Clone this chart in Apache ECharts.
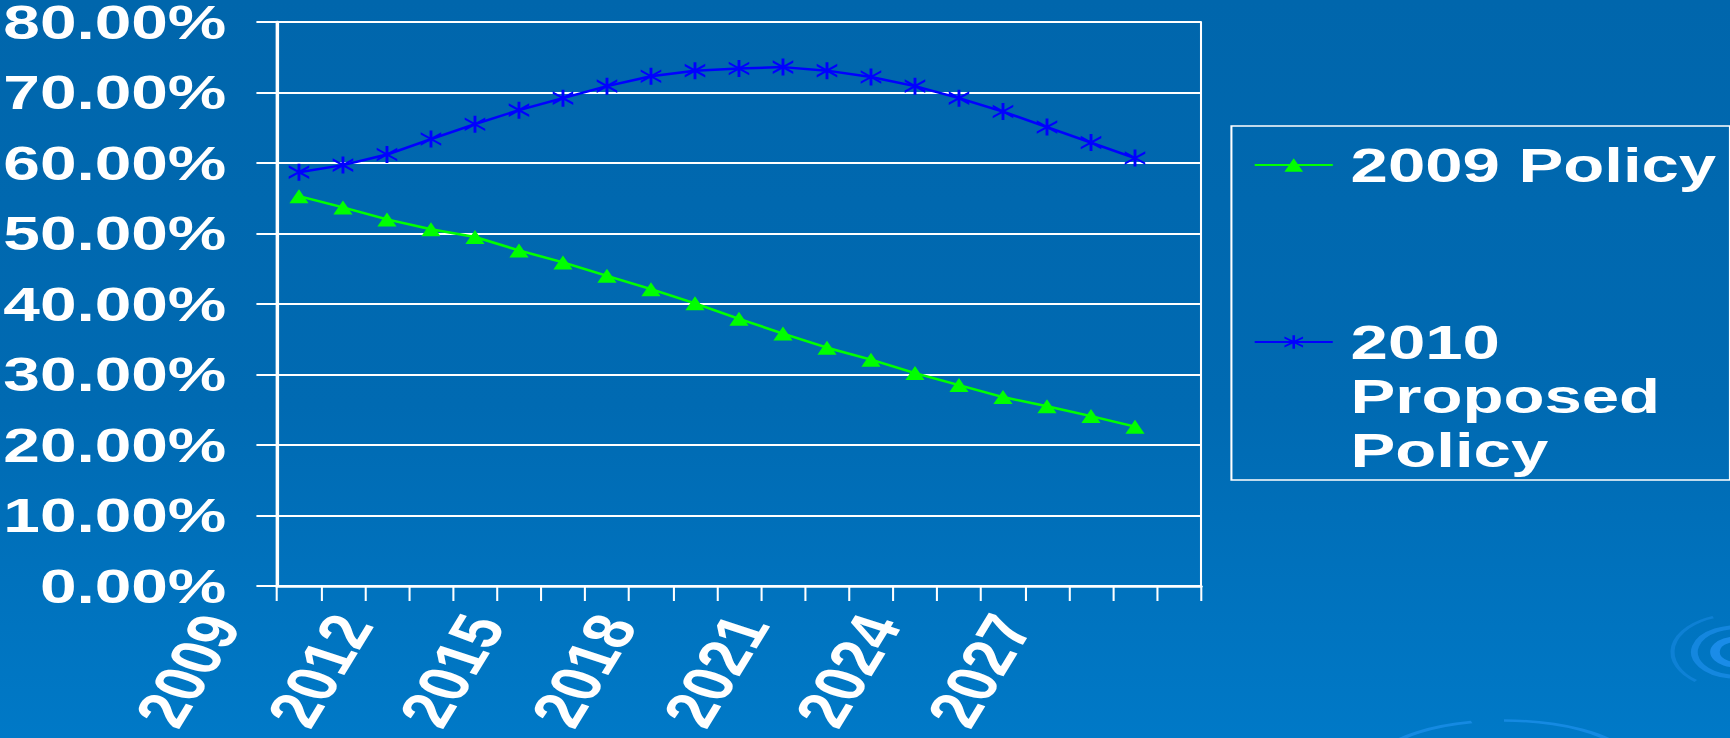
<!DOCTYPE html>
<html>
<head>
<meta charset="utf-8">
<title>2009 Policy vs 2010 Proposed Policy</title>
<script src="https://cdn.jsdelivr.net/npm/echarts@6/dist/echarts.min.js"></script>
<style>
  html, body { margin: 0; padding: 0; width: 1730px; height: 738px; overflow: hidden; background: #006EB8; }
  /* the slide is laid out on a narrower canvas and widened horizontally */
  #chart { width: 1263px; height: 738px; transform: scaleX(1.36976); transform-origin: 0 0; }
</style>
</head>
<body>
<div id="chart"></div>
<script>
// Categories: one slot per year, the last one left empty
const years = ['2009', '2010', '2011', '2012', '2013', '2014', '2015', '2016', '2017', '2018',
               '2019', '2020', '2021', '2022', '2023', '2024', '2025', '2026', '2027', '2028', '2029'];
// Years that carry a tick label
const labeledYears = ['2009', '2012', '2015', '2018', '2021', '2024', '2027'];

// Percentages per year
const policy2009 = [55.3, 53.7, 52.0, 50.6, 49.5, 47.6, 45.9, 44.0, 42.1, 40.1,
                    37.9, 35.8, 33.8, 32.1, 30.2, 28.5, 26.8, 25.5, 24.1, 22.6];
const policy2010 = [58.7, 59.7, 61.2, 63.4, 65.5, 67.5, 69.2, 70.9, 72.3, 73.1,
                    73.4, 73.6, 73.1, 72.2, 70.9, 69.2, 67.3, 65.1, 62.9, 60.7];

// Value axis range and step
const yMin = 0, yMax = 80, yStep = 10;

const seriesNames = ['2009 Policy', '2010 Proposed Policy'];
// legend wording; the two leading blank lines keep the marker level with "2010"
const legendText = {
  '2009 Policy': '2009 Policy',
  '2010 Proposed Policy': '\n\n2010\nProposed\nPolicy'
};

const FONT = 'Liberation Sans, Arial, sans-serif';
const WHITE = '#ffffff';
// asterisk marker: a vertical bar crossed by two diagonals
const STAR = 'path://M43 0L57 0L57 100L43 100Z M0 10L100 76L100 90L0 24Z M0 76L100 10L100 24L0 90Z';
const RIPPLE = 'rgba(30,145,238,0.85)';

const chart = echarts.init(document.getElementById('chart'), null, { renderer: 'svg' });

chart.setOption({
  animation: false,
  backgroundColor: {
    type: 'linear', x: 0, y: 0, x2: 0, y2: 1,
    colorStops: [
      { offset: 0, color: '#0066AC' },
      { offset: 0.55, color: '#006AB2' },
      { offset: 1, color: '#0079C7' }
    ]
  },
  grid: {
    left: 202.2, top: 22, width: 674.6, height: 564,
    containLabel: false,
    outerBoundsMode: 'none',
    show: true, borderColor: WHITE, borderWidth: 1.5, backgroundColor: 'transparent'
  },
  xAxis: {
    type: 'category',
    data: years,
    boundaryGap: true,
    axisLine: { lineStyle: { color: WHITE, width: 2.5 } },
    axisTick: { show: true, interval: 0, length: 15, lineStyle: { color: WHITE, width: 1.5 } },
    axisLabel: {
      interval: (idx, value) => labeledYears.includes(value),
      showMinLabel: true,
      showMaxLabel: true,
      hideOverlap: false,
      rotate: 66,
      // the year text ends well to the lower left of its slot
      margin: -97,
      lineHeight: 40,
      padding: [0, 141, 0, 0],
      color: WHITE, fontFamily: FONT, fontWeight: 'bold', fontSize: 52
    },
    splitLine: { show: false }
  },
  yAxis: {
    type: 'value',
    min: yMin, max: yMax, interval: yStep,
    axisLine: { show: true, lineStyle: { color: WHITE, width: 2.5 } },
    axisTick: { show: true, length: 15, lineStyle: { color: WHITE, width: 2 } },
    axisLabel: {
      margin: 37,
      lineHeight: 40,
      color: WHITE, fontFamily: FONT, fontWeight: 'bold', fontSize: 48,
      formatter: v => v.toFixed(2) + '%'
    },
    splitLine: { show: true, lineStyle: { color: WHITE, width: 2 } }
  },
  legend: {
    orient: 'vertical',
    left: 899, top: 126,
    padding: [12, 10, 3, 16],
    itemWidth: 57, itemHeight: 17, itemGap: 15,
    borderColor: WHITE, borderWidth: 1.5,
    selectedMode: false,
    formatter: name => legendText[name],
    textStyle: { color: WHITE, fontFamily: FONT, fontWeight: 'bold', fontSize: 49, lineHeight: 54,
                 padding: [0, 0, 0, 8] },
    data: seriesNames
  },
  series: [
    {
      name: seriesNames[0], type: 'line', data: policy2009,
      symbol: 'triangle', symbolSize: [14, 14], showAllSymbol: true,
      lineStyle: { color: '#00FF00', width: 2.5 },
      itemStyle: { color: '#00FF00', borderWidth: 0 },
      z: 3
    },
    {
      name: seriesNames[1], type: 'line', data: policy2010,
      symbol: STAR, symbolSize: [15, 17], showAllSymbol: true,
      lineStyle: { color: '#0000FF', width: 2.5 },
      itemStyle: { color: '#0000FF', borderWidth: 0 },
      z: 4
    }
  ],
  graphic: [
    // ripple in the lower right corner
    {
      type: 'group', x: 1268, y: 652, scaleY: 0.8, silent: true, z: -1,
      children: [
        { type: 'arc', shape: { cx: 0, cy: 0, r: 16, startAngle: 0, endAngle: Math.PI * 2 },
          style: { stroke: RIPPLE, lineWidth: 7, fill: null } },
        { type: 'arc', shape: { cx: 0, cy: 0, r: 31, startAngle: Math.PI * 0.55, endAngle: Math.PI * 1.6 },
          style: { stroke: 'rgba(30,145,238,0.65)', lineWidth: 5, fill: null } },
        { type: 'arc', shape: { cx: 0, cy: 0, r: 47, startAngle: Math.PI * 0.72, endAngle: Math.PI * 1.38 },
          style: { stroke: 'rgba(30,145,238,0.45)', lineWidth: 3, fill: null } }
      ]
    },
    // sweeping arc along the bottom edge
    {
      type: 'group', x: 1098, y: 768, scaleY: 0.5, silent: true, z: -1,
      children: [
        { type: 'arc', shape: { cx: 0, cy: 0, r: 95, startAngle: Math.PI * 1.12, endAngle: Math.PI * 1.42 },
          style: { stroke: 'rgba(30,145,238,0.7)', lineWidth: 5, fill: null } },
        { type: 'arc', shape: { cx: 0, cy: 0, r: 95, startAngle: Math.PI * 1.5, endAngle: Math.PI * 1.9 },
          style: { stroke: 'rgba(30,145,238,0.7)', lineWidth: 5, fill: null } }
      ]
    }
  ]
});
</script>
</body>
</html>
